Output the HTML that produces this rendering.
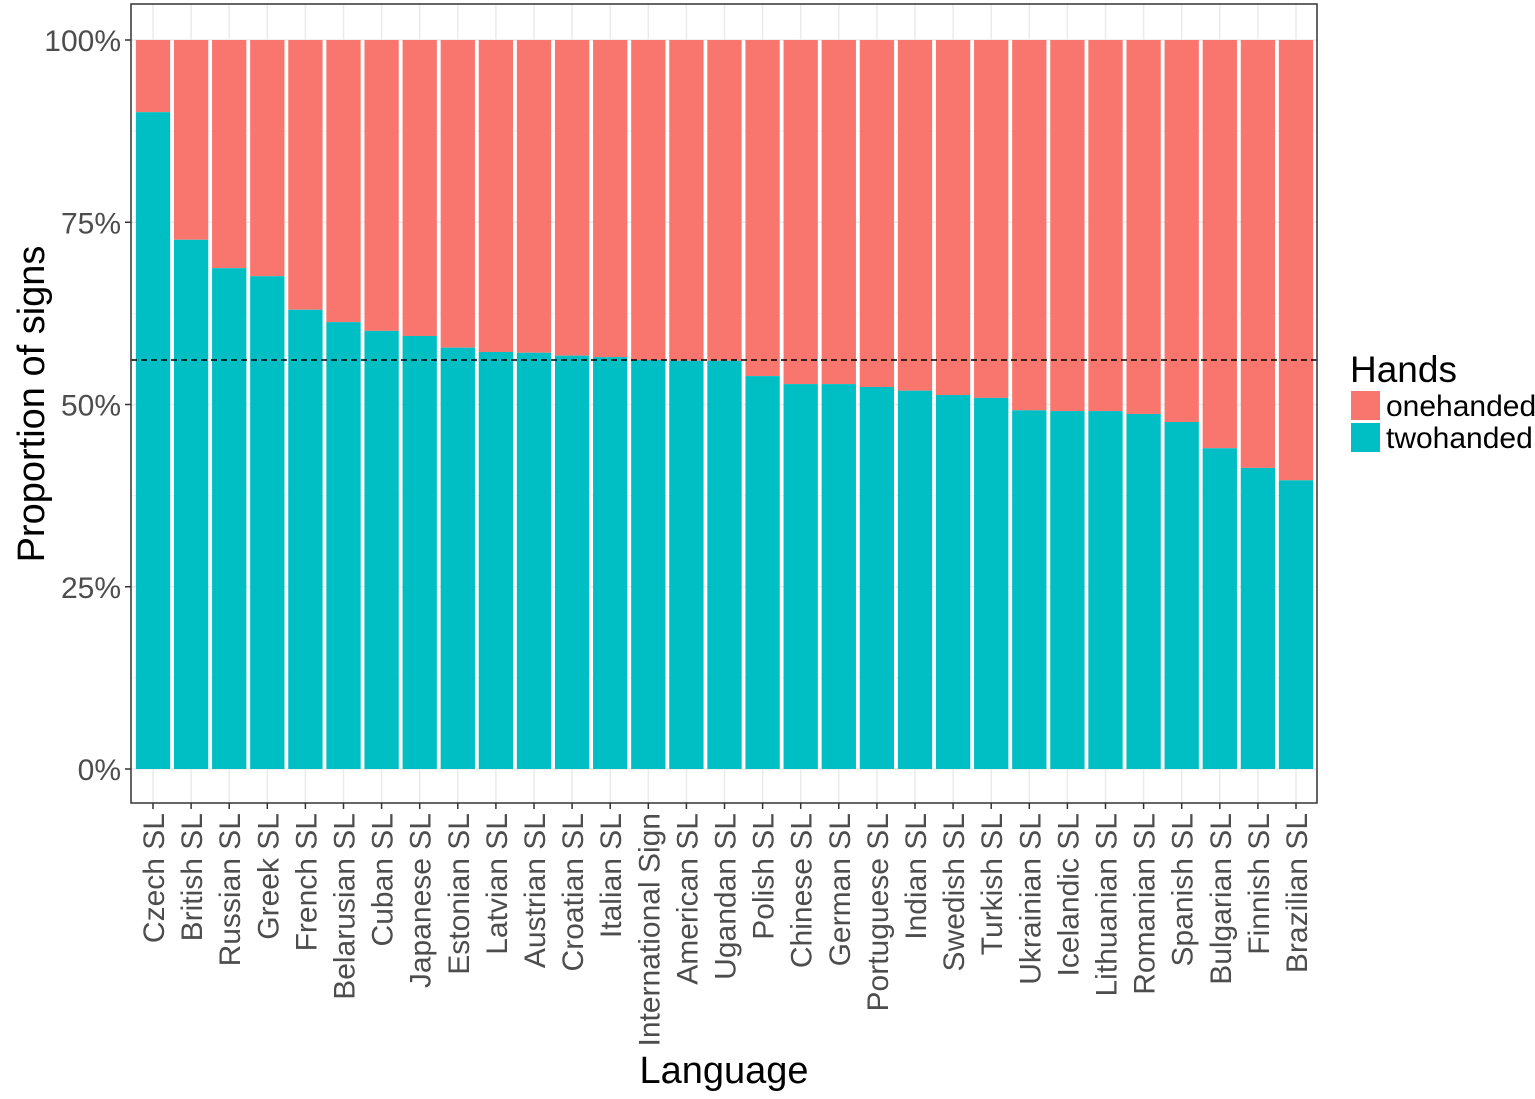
<!DOCTYPE html>
<html><head><meta charset="utf-8"><style>
body{margin:0;background:#fff}
svg text{font-family:"Liberation Sans",sans-serif}
</style></head><body>
<svg id="c" width="1535" height="1094" xmlns="http://www.w3.org/2000/svg"></svg>
<script>
const categories=["Czech SL","British SL","Russian SL","Greek SL","French SL","Belarusian SL","Cuban SL","Japanese SL","Estonian SL","Latvian SL","Austrian SL","Croatian SL","Italian SL","International Sign","American SL","Ugandan SL","Polish SL","Chinese SL","German SL","Portuguese SL","Indian SL","Swedish SL","Turkish SL","Ukrainian SL","Icelandic SL","Lithuanian SL","Romanian SL","Spanish SL","Bulgarian SL","Finnish SL","Brazilian SL"];
const twohanded=[90.1,72.6,68.7,67.6,63.0,61.3,60.1,59.4,57.8,57.2,57.1,56.7,56.5,56.1,56.0,56.0,53.9,52.8,52.8,52.4,51.9,51.3,50.9,49.2,49.1,49.1,48.7,47.6,44.0,41.3,39.6];
const yTicks=[0,25,50,75,100];
const yTickLabels=["0%","25%","50%","75%","100%"];
const meanLine=[56.1];
const NS="http://www.w3.org/2000/svg";
const svg=document.getElementById("c");
function mk(t,a,p){const e=document.createElementNS(NS,t);for(const k in a)e.setAttribute(k,a[k]);(p||svg).appendChild(e);return e;}
const px0=131,px1=1317,py0=4,py1=803;
const y=v=>769-v*(769-40)/100;
const step=(1296-153)/30;
const x=i=>153+i*step;
const bw=step*0.9;
const bg=mk("rect",{x:px0,y:py0,width:px1-px0,height:py1-py0,fill:"#fff"});


for(let v=12.5;v<100;v+=25){const g=mk("line",{x1:px0,x2:px1,y1:y(v),y2:y(v),stroke:"#f2f2f2","stroke-width":1});

}
yTicks.forEach(v=>{const g=mk("line",{x1:px0,x2:px1,y1:y(v),y2:y(v),stroke:"#ebebeb","stroke-width":1.5});

});
categories.forEach((c,i)=>{const g=mk("line",{x1:x(i),x2:x(i),y1:py0,y2:py1,stroke:"#ebebeb","stroke-width":1.5});

});
categories.forEach((c,i)=>{
 const v=twohanded[i];
 const r1=mk("rect",{x:x(i)-bw/2,y:y(100),width:bw,height:y(v)-y(100),fill:"#F8766D"});
 
 
 const r2=mk("rect",{x:x(i)-bw/2,y:y(v),width:bw,height:y(0)-y(v),fill:"#00BFC4"});
 
 
 const tk=mk("line",{x1:x(i),x2:x(i),y1:py1,y2:py1+6,stroke:"#333","stroke-width":1.5});
 
 
 const t=mk("text",{x:0,y:0,transform:`translate(${x(i)+11},${py1+10}) rotate(-90)`,"text-anchor":"end","font-size":30,fill:"#4d4d4d"});
 t.textContent=c;
 
 
});
const dl=mk("line",{x1:px0,x2:px1,y1:y(meanLine[0]),y2:y(meanLine[0]),stroke:"#000","stroke-width":1.5,"stroke-dasharray":"6,4"});


const br=mk("rect",{x:px0,y:py0,width:px1-px0,height:py1-py0,fill:"none",stroke:"#333","stroke-width":1.5});


yTicks.forEach((v,i)=>{
 const tk=mk("line",{x1:px0-6,x2:px0,y1:y(v),y2:y(v),stroke:"#333","stroke-width":1.5});
 
 
 const t=mk("text",{x:px0-10,y:y(v)+11,"text-anchor":"end","font-size":30,fill:"#4d4d4d"});
 t.textContent=yTickLabels[i];
 
 
});
const yt=mk("text",{x:0,y:0,transform:"translate(44,404) rotate(-90)","text-anchor":"middle","font-size":38,fill:"#000"});
yt.textContent="Proportion of signs";


const xt=mk("text",{x:724,y:1083,"text-anchor":"middle","font-size":38,fill:"#000"});
xt.textContent="Language";


const lt=mk("text",{x:1350,y:382,"font-size":37,fill:"#000"});
lt.textContent="Hands";


[["onehanded","#F8766D",391],["twohanded","#00BFC4",423]].forEach(([n,c,yy])=>{
 const k=mk("rect",{x:1351,y:yy,width:29,height:29,fill:c});
 
 
 const t=mk("text",{x:1386,y:yy+25,"font-size":30,fill:"#000"});
 t.textContent=n;
 
 
});
</script>
</body></html>
